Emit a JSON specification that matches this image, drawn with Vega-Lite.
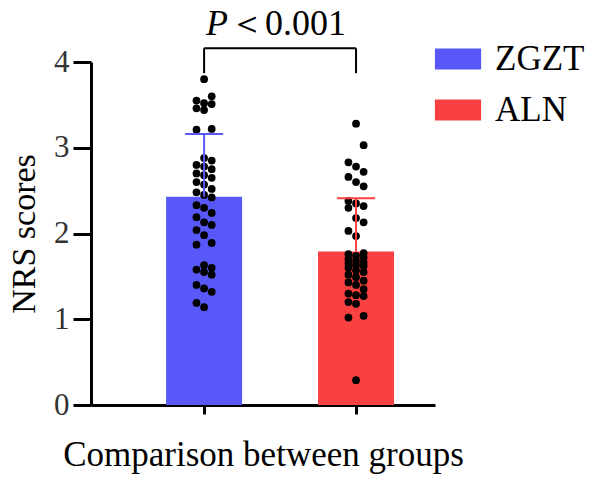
{
  "$schema": "https://vega.github.io/schema/vega-lite/v6.json",
  "width": 344,
  "height": 343,
  "autosize": {"type": "none"},
  "padding": {"left": 91, "top": 62, "right": 165, "bottom": 75},
  "background": "white",
  "config": {
    "view": {"stroke": null},
    "font": "Liberation Serif",
    "axis": {"labelFont": "Liberation Serif", "titleFont": "Liberation Serif", "titleFontWeight": "normal", "titleColor": "black", "labelColor": "#333", "domainColor": "black", "tickColor": "black"},
    "legend": {"labelFont": "Liberation Serif"}
  },
  "datasets": {
    "summary": [
      {"group": "ZGZT", "mean": 2.43, "upper": 3.16},
      {"group": "ALN", "mean": 1.79, "upper": 2.41}
    ],
    "points": [
      {"group": "ZGZT", "value": 3.80},
      {"group": "ZGZT", "value": 3.60},
      {"group": "ZGZT", "value": 3.55},
      {"group": "ZGZT", "value": 3.52},
      {"group": "ZGZT", "value": 3.51},
      {"group": "ZGZT", "value": 3.46},
      {"group": "ZGZT", "value": 3.44},
      {"group": "ZGZT", "value": 3.22},
      {"group": "ZGZT", "value": 3.21},
      {"group": "ZGZT", "value": 2.88},
      {"group": "ZGZT", "value": 2.85},
      {"group": "ZGZT", "value": 2.80},
      {"group": "ZGZT", "value": 2.78},
      {"group": "ZGZT", "value": 2.75},
      {"group": "ZGZT", "value": 2.70},
      {"group": "ZGZT", "value": 2.68},
      {"group": "ZGZT", "value": 2.65},
      {"group": "ZGZT", "value": 2.60},
      {"group": "ZGZT", "value": 2.57},
      {"group": "ZGZT", "value": 2.52},
      {"group": "ZGZT", "value": 2.48},
      {"group": "ZGZT", "value": 2.45},
      {"group": "ZGZT", "value": 2.42},
      {"group": "ZGZT", "value": 2.33},
      {"group": "ZGZT", "value": 2.30},
      {"group": "ZGZT", "value": 2.24},
      {"group": "ZGZT", "value": 2.19},
      {"group": "ZGZT", "value": 2.13},
      {"group": "ZGZT", "value": 2.10},
      {"group": "ZGZT", "value": 2.04},
      {"group": "ZGZT", "value": 1.98},
      {"group": "ZGZT", "value": 1.89},
      {"group": "ZGZT", "value": 1.87},
      {"group": "ZGZT", "value": 1.63},
      {"group": "ZGZT", "value": 1.60},
      {"group": "ZGZT", "value": 1.58},
      {"group": "ZGZT", "value": 1.55},
      {"group": "ZGZT", "value": 1.52},
      {"group": "ZGZT", "value": 1.40},
      {"group": "ZGZT", "value": 1.36},
      {"group": "ZGZT", "value": 1.32},
      {"group": "ZGZT", "value": 1.19},
      {"group": "ZGZT", "value": 1.14},
      {"group": "ALN", "value": 3.28},
      {"group": "ALN", "value": 3.03},
      {"group": "ALN", "value": 2.83},
      {"group": "ALN", "value": 2.78},
      {"group": "ALN", "value": 2.72},
      {"group": "ALN", "value": 2.66},
      {"group": "ALN", "value": 2.60},
      {"group": "ALN", "value": 2.55},
      {"group": "ALN", "value": 2.38},
      {"group": "ALN", "value": 2.35},
      {"group": "ALN", "value": 2.32},
      {"group": "ALN", "value": 2.30},
      {"group": "ALN", "value": 2.18},
      {"group": "ALN", "value": 2.13},
      {"group": "ALN", "value": 2.03},
      {"group": "ALN", "value": 1.97},
      {"group": "ALN", "value": 1.77},
      {"group": "ALN", "value": 1.76},
      {"group": "ALN", "value": 1.74},
      {"group": "ALN", "value": 1.72},
      {"group": "ALN", "value": 1.70},
      {"group": "ALN", "value": 1.68},
      {"group": "ALN", "value": 1.66},
      {"group": "ALN", "value": 1.65},
      {"group": "ALN", "value": 1.63},
      {"group": "ALN", "value": 1.62},
      {"group": "ALN", "value": 1.60},
      {"group": "ALN", "value": 1.57},
      {"group": "ALN", "value": 1.55},
      {"group": "ALN", "value": 1.52},
      {"group": "ALN", "value": 1.49},
      {"group": "ALN", "value": 1.45},
      {"group": "ALN", "value": 1.43},
      {"group": "ALN", "value": 1.40},
      {"group": "ALN", "value": 1.35},
      {"group": "ALN", "value": 1.30},
      {"group": "ALN", "value": 1.28},
      {"group": "ALN", "value": 1.27},
      {"group": "ALN", "value": 1.20},
      {"group": "ALN", "value": 1.18},
      {"group": "ALN", "value": 1.04},
      {"group": "ALN", "value": 1.02},
      {"group": "ALN", "value": 0.29}
    ],
    "bracket": [
      {"from": "ZGZT", "to": "ALN", "low": 3.87, "high": 4.16, "label": "P", "rest": "＜0.001", "ty": 4.31}
    ]
  },
  "layer": [
    {
      "data": {"name": "summary"},
      "mark": {"type": "bar", "width": 76},
      "encoding": {
        "x": {
          "field": "group", "type": "nominal", "sort": ["ZGZT", "ALN"],
          "scale": {"domain": ["ZGZT", "ALN"], "paddingInner": 0.5, "paddingOuter": 0.382, "align": 0.647},
          "axis": {"title": "Comparison between groups", "labels": false, "domainWidth": 3, "tickWidth": 3, "tickSize": 9, "titleFontSize": 35, "titlePadding": 22}
        },
        "y": {
          "field": "mean", "type": "quantitative",
          "scale": {"domain": [0, 4], "nice": false, "zero": true},
          "axis": {"title": "NRS scores", "values": [0, 1, 2, 3, 4], "format": "d", "grid": false, "domainWidth": 3, "tickWidth": 3, "tickSize": 18, "labelFontSize": 31, "labelPadding": 4, "titleFontSize": 34, "titlePadding": 12}
        },
        "color": {
          "field": "group", "type": "nominal",
          "scale": {"domain": ["ZGZT", "ALN"], "range": ["#5858F8", "#F94141"]},
          "legend": {"orient": "none", "legendX": 346, "legendY": -24, "title": null, "symbolType": "M-1.1,-0.5L1.1,-0.5L1.1,0.5L-1.1,0.5Z", "symbolSize": 1764, "symbolStrokeWidth": 0, "symbolOpacity": 1, "labelFontSize": 35, "labelColor": "black", "labelOffset": 16, "rowPadding": 12}
        }
      }
    },
    {
      "data": {"name": "points"},
      "transform": [
        {"window": [{"op": "row_number", "as": "rank"}], "groupby": ["group"], "sort": [{"field": "value", "order": "descending"}]},
        {"calculate": "((datum.rank % 3) - 1) * 0.2", "as": "swarm"}
      ],
      "mark": {"type": "circle", "size": 60, "opacity": 1, "color": "black"},
      "encoding": {
        "x": {"field": "group", "type": "nominal", "sort": ["ZGZT", "ALN"]},
        "xOffset": {"field": "swarm", "type": "quantitative", "scale": {"domain": [-1, 1]}},
        "y": {"field": "value", "type": "quantitative"}
      }
    },
    {
      "data": {"name": "summary"},
      "mark": {"type": "rule", "strokeWidth": 2},
      "encoding": {
        "x": {"field": "group", "type": "nominal", "sort": ["ZGZT", "ALN"]},
        "y": {"field": "mean", "type": "quantitative"},
        "y2": {"field": "upper"},
        "color": {"field": "group", "type": "nominal"}
      }
    },
    {
      "data": {"name": "summary"},
      "mark": {"type": "tick", "size": 38, "thickness": 2, "opacity": 1},
      "encoding": {
        "x": {"field": "group", "type": "nominal", "sort": ["ZGZT", "ALN"]},
        "y": {"field": "upper", "type": "quantitative"},
        "color": {"field": "group", "type": "nominal"}
      }
    },
    {
      "data": {"name": "bracket"},
      "mark": {"type": "rule", "strokeWidth": 2, "color": "black"},
      "encoding": {
        "x": {"field": "from", "type": "nominal"},
        "x2": {"field": "to"},
        "y": {"field": "high", "type": "quantitative"}
      }
    },
    {
      "data": {"name": "bracket"},
      "mark": {"type": "rule", "strokeWidth": 2, "color": "black"},
      "encoding": {
        "x": {"field": "from", "type": "nominal"},
        "y": {"field": "low", "type": "quantitative"},
        "y2": {"field": "high"}
      }
    },
    {
      "data": {"name": "bracket"},
      "mark": {"type": "rule", "strokeWidth": 2, "color": "black"},
      "encoding": {
        "x": {"field": "to", "type": "nominal"},
        "y": {"field": "low", "type": "quantitative"},
        "y2": {"field": "high"}
      }
    },
    {
      "data": {"name": "bracket"},
      "mark": {"type": "text", "fontSize": 36, "fontStyle": "italic", "align": "left", "baseline": "alphabetic", "dx": 2, "color": "black", "font": "Liberation Serif"},
      "encoding": {
        "x": {"field": "from", "type": "nominal"},
        "y": {"field": "ty", "type": "quantitative"},
        "text": {"field": "label"}
      }
    },
    {
      "data": {"name": "bracket"},
      "mark": {"type": "text", "fontSize": 36, "align": "left", "baseline": "alphabetic", "dx": 25, "color": "black", "font": "Liberation Serif"},
      "encoding": {
        "x": {"field": "from", "type": "nominal"},
        "y": {"field": "ty", "type": "quantitative"},
        "text": {"field": "rest"}
      }
    }
  ]
}
